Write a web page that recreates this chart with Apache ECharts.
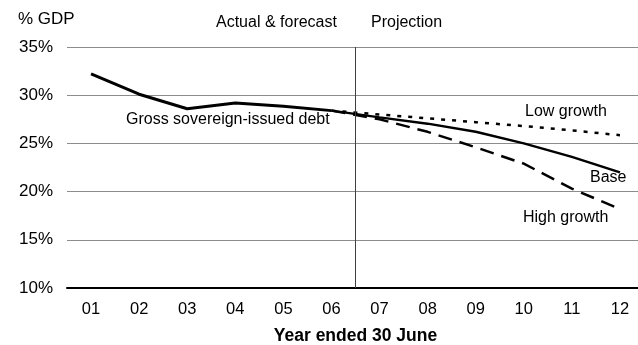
<!DOCTYPE html>
<html>
<head>
<meta charset="utf-8">
<script src="https://cdn.jsdelivr.net/npm/echarts@6/dist/echarts.min.js"></script>
<style>
  html, body { margin: 0; padding: 0; background: #fff; overflow: hidden; }
  #chart { width: 644px; height: 345px; }
</style>
</head>
<body>
<div id="chart"></div>
<script>
var years = ['01', '02', '03', '04', '05', '06', '07', '08', '09', '10', '11', '12'];
var grossDebt = [32.2, 30.1, 28.6, 29.2, 28.85, 28.4, null, null, null, null, null, null];
var baseCase = [null, null, null, null, null, 28.4, 27.7, 27.05, 26.2, 25.0, 23.6, 22.0];
var lowGrowth = [null, null, null, null, null, 28.4, 28.0, 27.6, 27.2, 26.8, 26.35, 25.85];
var highGrowth = [null, null, null, null, null, 28.4, 27.5, 26.2, 24.6, 22.9, 20.3, 18.2];
// actual/forecast vs projection divider sits between 06 and 07
var splitAt = 5.5;

var font = 'Liberation Sans, Arial, sans-serif';
var chart = echarts.init(document.getElementById('chart'));

function lineSeries(name, data, width, type) {
  return {
    name: name,
    type: 'line',
    data: data,
    symbol: 'none',
    connectNulls: false,
    lineStyle: { color: '#000', width: width, type: type }
  };
}

var series = [
  lineSeries('Low growth', lowGrowth, 2.5, [4, 7]),
  lineSeries('High growth', highGrowth, 2.5, [14, 8]),
  lineSeries('Base', baseCase, 2.5, 'solid'),
  lineSeries('Gross sovereign-issued debt', grossDebt, 3, 'solid'),
  {
    // invisible helper for the vertical divider, on a hidden value axis
    type: 'line',
    xAxisIndex: 1,
    data: [],
    silent: true,
    markLine: {
      silent: true,
      symbol: 'none',
      label: { show: false },
      lineStyle: { color: '#404040', width: 1, type: 'solid' },
      data: [{ xAxis: splitAt }]
    }
  }
];

function txt(s, left, top, size) {
  return { type: 'text', left: left, top: top, style: { text: s, fontSize: size || 16, fontFamily: font, fill: '#000' } };
}

chart.setOption({
  animation: false,
  grid: { left: 67, right: 0, top: 47, bottom: 57, containLabel: false, outerBoundsMode: 'none' },
  xAxis: [{
    type: 'category',
    data: years,
    boundaryGap: true,
    axisLine: { lineStyle: { color: '#000', width: 2 } },
    axisTick: { show: false },
    axisLabel: { color: '#000', fontSize: 16.5, fontFamily: font, margin: 13 },
    name: 'Year ended 30 June',
    nameLocation: 'middle',
    nameGap: 39,
    nameTextStyle: { color: '#000', fontSize: 17.5, fontWeight: 'bold', fontFamily: font }
  }, {
    type: 'value',
    min: -0.5,
    max: years.length - 0.5,
    show: false
  }],
  yAxis: {
    type: 'value',
    min: 10,
    max: 35,
    interval: 5,
    axisLine: { show: false },
    axisTick: { show: false },
    axisLabel: { color: '#000', fontSize: 17, fontFamily: font, margin: 14, formatter: '{value}%' },
    splitLine: { lineStyle: { color: '#8c8c8c', width: 1 } }
  },
  series: series,
  graphic: [
    txt('% GDP', 18, 11, 17),
    txt('Actual & forecast', 216, 15),
    txt('Projection', 371, 15),
    txt('Gross sovereign-issued debt', 126, 112),
    txt('Low growth', 525, 104),
    txt('Base', 590, 170),
    txt('High growth', 523, 210)
  ]
});
</script>
</body>
</html>
